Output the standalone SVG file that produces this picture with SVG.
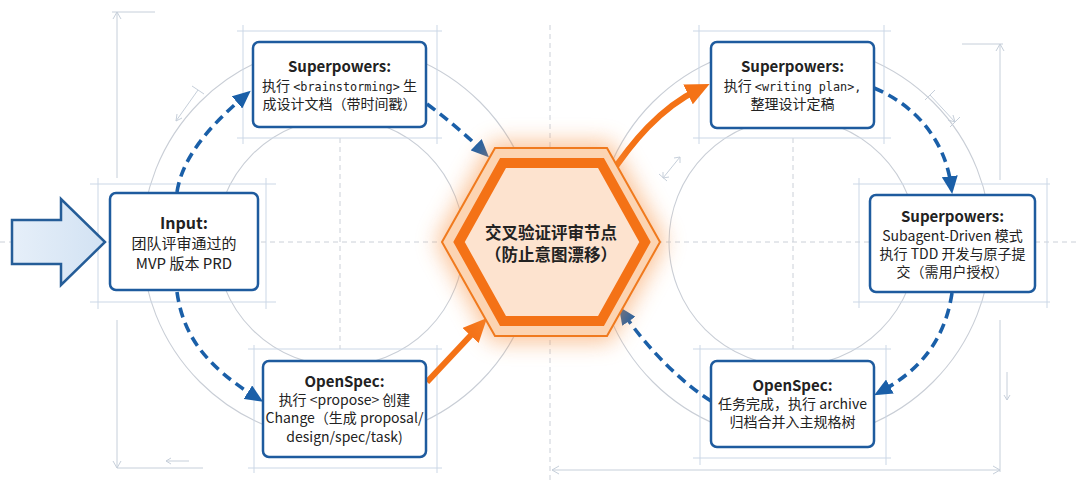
<svg xmlns="http://www.w3.org/2000/svg" width="1080" height="497" viewBox="0 0 1080 497">
<style>
.guide{stroke:#cbd7e6;stroke-width:1;fill:none}
.arc{stroke:#c9ced6;stroke-width:1.1;fill:none}
.cdash{stroke:#cbd0d8;stroke-width:1;stroke-dasharray:5 4;fill:none}
.dim{stroke:#c6cfda;stroke-width:1;fill:none}
.box{fill:#ffffff;stroke:#1e5b9e;stroke-width:2.5}
.t{font-family:"Noto Sans CJK SC","Noto Sans",sans-serif;fill:#222222;text-anchor:middle}
.h{font-weight:700;font-size:15px}
.b{font-size:14px}
.m{font-family:"DejaVu Sans Mono","Liberation Mono",monospace;font-size:11.8px}
.blue{stroke:#1a5fa8;stroke-width:3.6;stroke-dasharray:10 6;fill:none;marker-end:url(#ab)}
.orange{stroke:#f47216;stroke-width:6;fill:none;marker-end:url(#ao)}
</style>
<defs>
<marker id="ab" markerUnits="userSpaceOnUse" markerWidth="18" markerHeight="16" refX="9" refY="8" orient="auto"><path d="M0,0 L18,8 L0,16 z" fill="#1a5fa8"/></marker>
<marker id="ao" markerUnits="userSpaceOnUse" markerWidth="24" markerHeight="22" refX="12" refY="11" orient="auto"><path d="M0,0 L24,11 L0,22 z" fill="#f47216"/></marker>
<filter id="glow" x="-40%" y="-40%" width="180%" height="180%"><feGaussianBlur stdDeviation="11"/></filter>
<linearGradient id="inarrow" x1="0" y1="0" x2="1" y2="0"><stop offset="0" stop-color="#e6eff9"/><stop offset="1" stop-color="#d2e2f3"/></linearGradient>
</defs>
<rect x="0" y="0" width="1080" height="497" fill="#ffffff"/>

<g id="background">
  <line class="cdash" x1="0" y1="242" x2="1080" y2="242"/>
  <line class="cdash" x1="550" y1="25" x2="550" y2="480"/>
  <line class="cdash" x1="340" y1="138" x2="340" y2="349"/>
  <line class="cdash" x1="793" y1="138" x2="793" y2="349"/>
  <circle class="arc" cx="340" cy="242" r="198"/>
  <circle class="arc" cx="340" cy="242" r="124"/>
  <circle class="arc" cx="793" cy="242" r="198"/>
  <circle class="arc" cx="793" cy="242" r="124"/>
  <line class="dim" x1="117" y1="12" x2="117" y2="178"/>
  <line class="dim" x1="112" y1="12" x2="155" y2="12"/>
  <polyline class="dim" points="113,19 117,12 121,19"/>
  <line class="dim" x1="117" y1="320" x2="117" y2="468"/>
  <line class="dim" x1="117" y1="468" x2="203" y2="468"/>
  <polyline class="dim" points="113,461 117,468 121,461"/>
  <line class="dim" x1="189" y1="461" x2="166" y2="461"/>
  <polyline class="dim" points="171,458 166,461 171,464"/>
  <line class="dim" x1="198" y1="90" x2="176" y2="121"/>
  <line class="dim" x1="192" y1="86" x2="204" y2="94"/>
  <polyline class="dim" points="182,118 176,121 177,114"/>
  <line class="dim" x1="930" y1="95" x2="955" y2="122"/>
  <line class="dim" x1="925" y1="100" x2="935" y2="90"/>
  <line class="dim" x1="950" y1="127" x2="960" y2="117"/>
  <polyline class="dim" points="953,115 955,122 948,120"/>
  <line class="dim" x1="663" y1="178" x2="680" y2="157"/>
  <polyline class="dim" points="663,172 663,178 669,177"/>
  <polyline class="dim" points="674,158 680,157 680,163"/>
  <line class="dim" x1="659" y1="174" x2="667" y2="181"/>
  <line class="dim" x1="1000" y1="44" x2="1000" y2="180"/>
  <line class="dim" x1="962" y1="44" x2="1003" y2="44"/>
  <polyline class="dim" points="996,51 1000,44 1004,51"/>
  <line class="dim" x1="1000" y1="320" x2="1000" y2="472"/>
  <line class="dim" x1="552" y1="470" x2="1000" y2="470"/>
  <polyline class="dim" points="559,466 552,470 559,474"/>
  <polyline class="dim" points="993,466 1000,470 993,474"/>
  <line class="dim" x1="1007" y1="372" x2="1007" y2="400"/>
  <polyline class="dim" points="1004,395 1007,400 1010,395"/>
  <path class="guide" d="M237,31H442M237,138H442M243,25V144M437,25V144"/>
  <path class="guide" d="M90,184H276M90,302H276M98,178V309M266,178V309"/>
  <path class="guide" d="M248,349H442M248,468H442M254,345V473M437,345V473"/>
  <path class="guide" d="M693,31H891M693,138H891M699,25V144M884,25V144"/>
  <path class="guide" d="M853,184H1050M853,302H1050M859,178V308M1047,178V308"/>
  <path class="guide" d="M693,349H891M693,458H891M700,345V465M886,345V465"/>
</g>

<g id="connectors">
  <path class="blue" d="M177,192 C182,160 205,130 243.9,96.6"/>
  <path class="blue" d="M427,104 Q458,127 482.5,151"/>
  <path class="blue" d="M177,292 C183,335 205,365 255.5,397"/>
  <path class="blue" d="M874,88 C915,105 945,140 951,185.2"/>
  <path class="blue" d="M952,293 C945,340 920,370 882,390.9"/>
  <path class="blue" d="M711,401 C685,385 650,352 623.8,313.9"/>
  <path class="orange" d="M427,382 L478.8,326.8"/>
  <path class="orange" d="M608,178 C632,142 660,108 698.8,89.2"/>
</g>

<g id="input-arrow">
  <polygon points="12,220 61,220 61,199 105,242 61,285 61,264 12,264" fill="url(#inarrow)" stroke="#255d98" stroke-width="2.5" stroke-linejoin="miter"/>
</g>

<g id="node-input">
  <rect class="box" x="110" y="193" width="148" height="97" rx="6"/>
  <text class="t" x="184" y="229" font-weight="700" font-size="16">Input:</text>
  <text class="t" x="184" y="249" font-size="15">团队评审通过的</text>
  <text class="t" x="184" y="269" font-size="15">MVP 版本 PRD</text>
</g>

<g id="node-brainstorm">
  <rect class="box" x="253" y="42" width="173" height="85" rx="6"/>
  <text class="t h" x="339.5" y="72">Superpowers:</text>
  <text class="t b" x="339.5" y="91">执行 <tspan class="m">&lt;brainstorming&gt;</tspan> 生</text>
  <text class="t b" x="339.5" y="109">成设计文档（带时间戳）</text>
</g>

<g id="node-propose">
  <rect class="box" x="263" y="361" width="163" height="96" rx="6"/>
  <text class="t h" x="344.5" y="387">OpenSpec:</text>
  <text class="t b" x="344.5" y="405">执行 &lt;propose&gt; 创建</text>
  <text class="t b" x="344.5" y="423">Change（生成 proposal/</text>
  <text class="t b" x="344.5" y="442">design/spec/task)</text>
</g>

<g id="node-writing-plan">
  <rect class="box" x="711" y="42" width="163" height="86" rx="6"/>
  <text class="t h" x="792.5" y="72">Superpowers:</text>
  <text class="t b" x="792.5" y="91">执行 <tspan class="m">&lt;writing plan&gt;,</tspan></text>
  <text class="t b" x="792.5" y="109">整理设计定稿</text>
</g>

<g id="node-subagent">
  <rect class="box" x="870" y="195" width="165" height="97" rx="6"/>
  <text class="t h" x="952.5" y="222">Superpowers:</text>
  <text class="t b" x="952.5" y="241">Subagent-Driven 模式</text>
  <text class="t b" x="952.5" y="259">执行 TDD 开发与原子提</text>
  <text class="t b" x="952.5" y="277">交（需用户授权）</text>
</g>

<g id="node-archive">
  <rect class="box" x="711" y="361" width="163" height="86" rx="6"/>
  <text class="t h" x="792.5" y="391">OpenSpec:</text>
  <text class="t b" x="792.5" y="409">任务完成，执行 archive</text>
  <text class="t b" x="792.5" y="427">归档合并入主规格树</text>
</g>

<g id="node-review">
  <polygon points="436,242 492,142 610,142 666,242 610,342 492,342" fill="#f7903f" opacity="0.55" filter="url(#glow)"/>
  <polygon points="442,242 495,148 607,148 660,242 607,336 495,336" fill="#fcd4b2" stroke="#f07a1e" stroke-width="2"/>
  <polygon points="459,242 503,163 601,163 645,242 601,321 503,321" fill="#fde3cf" stroke="#f47216" stroke-width="10" stroke-linejoin="miter"/>
  <text class="t" x="551" y="239" font-weight="700" font-size="16.5">交叉验证评审节点</text>
  <text class="t" x="551" y="261" font-weight="700" font-size="16.5">（防止意图漂移）</text>
</g>
</svg>
